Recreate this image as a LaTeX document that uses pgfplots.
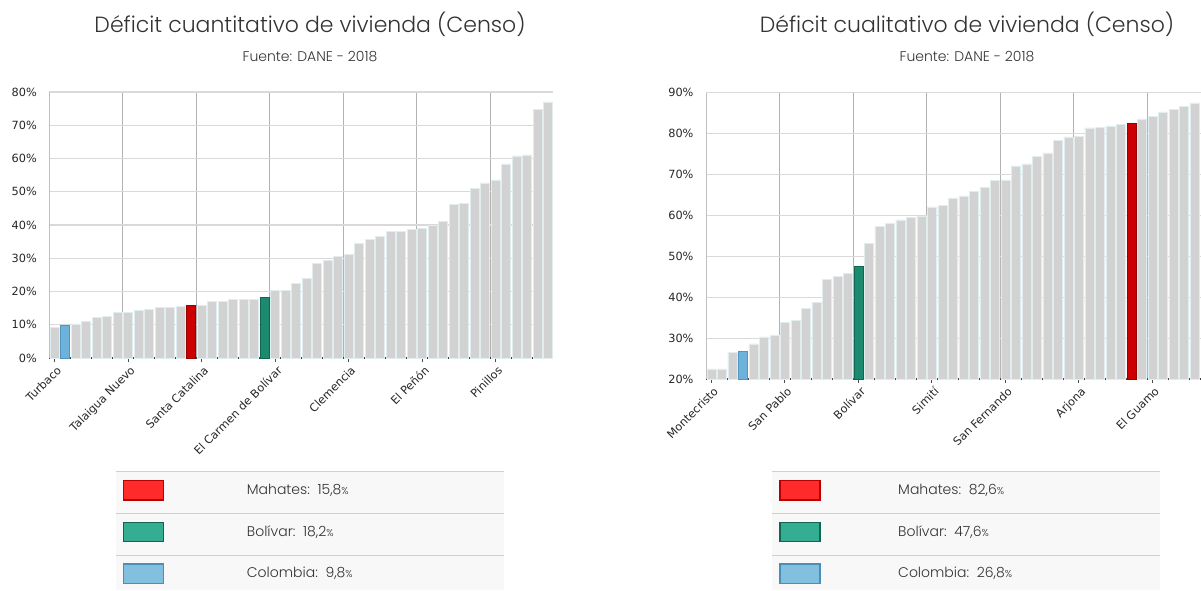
\documentclass[border=0pt]{standalone}
\usepackage{fontspec}
\setmainfont{DejaVu Sans}
\newfontfamily\tickfont{DejaVu Sans}
\newfontfamily\titlefont{Poppins}[UprightFont=* Light]
\usepackage{pgfplots}
\usepackage{pgfplotstable}
\pgfplotsset{compat=1.18}
\definecolor{barg}{HTML}{D2D2D2}
\definecolor{bare}{HTML}{E2EDF0}
\definecolor{redbar}{HTML}{CC0000}
\definecolor{redbd}{HTML}{990000}
\definecolor{grnbar}{HTML}{1B8A6F}
\definecolor{grnbd}{HTML}{12664F}
\definecolor{blubar}{HTML}{6CB2DA}
\definecolor{blubd}{HTML}{4F95C0}
\definecolor{txt}{HTML}{333333}
\definecolor{legbg}{HTML}{F8F8F8}
\definecolor{legln}{HTML}{D0D0D0}
\definecolor{redsw}{HTML}{FF2A2A}
\definecolor{redswb}{HTML}{B80000}
\definecolor{grnsw}{HTML}{35AD92}
\definecolor{grnswb}{HTML}{11664F}
\definecolor{blusw}{HTML}{82C0E0}
\definecolor{bluswb}{HTML}{4C8EB5}

\pgfplotstableread{
x y
1 9.2
2 9.8
3 10.3
4 11.1
5 12.2
6 12.5
7 13.7
8 13.7
9 14.4
10 14.7
11 15.2
12 15.2
13 15.6
14 15.8
15 15.9
16 17.1
17 17.1
18 17.6
19 17.6
20 17.6
21 18.2
22 20.3
23 20.3
24 22.4
25 24.0
26 28.5
27 29.4
28 30.6
29 31.2
30 34.5
31 35.7
32 36.6
33 38.0
34 38.0
35 38.6
36 38.9
37 39.9
38 41.0
39 46.2
40 46.4
41 51.0
42 52.7
43 53.6
44 58.4
45 60.8
46 61.1
47 74.7
48 77.0
}\cuant

\pgfplotstableread{
x y
1 22.5
2 22.5
3 26.6
4 26.8
5 28.6
6 30.3
7 30.7
8 33.9
9 34.4
10 37.3
11 38.8
12 44.4
13 45.1
14 45.9
15 47.6
16 53.2
17 57.4
18 58.1
19 58.9
20 59.5
21 59.8
22 62.1
23 62.4
24 64.3
25 64.8
26 65.8
27 66.8
28 68.5
29 68.7
30 72.1
31 72.6
32 74.5
33 75.3
34 78.4
35 79.2
36 79.4
37 81.4
38 81.6
39 81.9
40 82.2
41 82.6
42 83.6
43 84.2
44 85.3
45 86.0
46 86.6
47 87.5
}\cuali

\pgfplotsset{
  mychart/.style={
    scale only axis,
    ybar, bar width=9pt, bar shift=0pt,
    axis lines*=left,
    axis line style={-},
    x axis line style={draw=black!75, line width=1.2pt},
    y axis line style={draw=black!25, line width=0.8pt},
    tick align=outside,
    major tick length=4pt,
    minor tick length=0pt,
    xtick={1,8,15,22,29,36,43},
    minor xtick={7.5,14.5,21.5,28.5,35.5,42.5},
    xminorgrids=true,
    ymajorgrids=true,
    x grid style={draw=black!30, line width=0.8pt},
    y grid style={draw=black!15, line width=1.2pt},
    xtick style={draw=black!70, line width=0.8pt},
    ytick style={draw=none},
    /pgf/number format/assume math mode=true,
    yticklabel={\pgfmathprintnumber{\tick}\%},
    yticklabel style={font=\tickfont\fontsize{11.3}{13}\selectfont, text=black!85, xshift=-5pt},
    xticklabel style={font=\tickfont\fontsize{11.3}{13}\selectfont, text=black!85, rotate=45, anchor=north east, inner sep=1pt, yshift=-2pt},
  },
  graybar/.style={fill=barg, draw=bare, line width=0.5pt, bar shift=0pt},
}

\begin{document}
\begin{tikzpicture}
\useasboundingbox (0pt,0pt) rectangle (1201pt,590pt);
\clip (0pt,0pt) rectangle (1201pt,590pt);

% ---------- titles ----------
\node[font=\titlefont\fontsize{22}{26}\selectfont, text=txt] at (310pt,566pt) {Déficit cuantitativo de vivienda (Censo)};
\node[font=\titlefont\fontsize{14}{17}\selectfont, text=txt] at (310pt,533pt) {Fuente: DANE - 2018};
\node[font=\titlefont\fontsize{22}{26}\selectfont, text=txt] at (967pt,566pt) {Déficit cualitativo de vivienda (Censo)};
\node[font=\titlefont\fontsize{14}{17}\selectfont, text=txt] at (967pt,533pt) {Fuente: DANE - 2018};

% ---------- left chart ----------
\begin{axis}[mychart,
  at={(49.3pt,232pt)}, anchor=south west,
  width=504pt, height=266pt,
  xmin=0.5, xmax=48.5, ymin=0, ymax=80,
  ytick={0,10,...,80},
  xticklabels={Turbaco, Talaigua Nuevo, Santa Catalina, El Carmen de Bolívar, Clemencia, El Peñón, Pinillos},
]
\addplot[graybar] table {\cuant};
\addplot[fill=blubar, draw=blubd, line width=0.5pt, bar shift=0pt] coordinates {(2,9.8)};
\addplot[fill=redbar, draw=redbd, line width=0.5pt, bar shift=0pt] coordinates {(14,15.8)};
\addplot[fill=grnbar, draw=grnbd, line width=0.5pt, bar shift=0pt] coordinates {(21,18.2)};
\end{axis}

% ---------- right chart ----------
\begin{axis}[mychart,
  at={(706pt,211pt)}, anchor=south west,
  width=495pt, height=286.3pt,
  xmin=0.5, xmax=47.64, ymin=20, ymax=90,
  ytick={20,30,...,90},
  xticklabels={Montecristo, San Pablo, Bolívar, Simití, San Fernando, Arjona, El Guamo},
]
\addplot[graybar] table {\cuali};
\addplot[fill=blubar, draw=blubd, line width=0.5pt, bar shift=0pt] coordinates {(4,26.8)};
\addplot[fill=grnbar, draw=grnbd, line width=0.5pt, bar shift=0pt] coordinates {(15,47.6)};
\addplot[fill=redbar, draw=redbd, line width=0.5pt, bar shift=0pt] coordinates {(41,82.6)};
\end{axis}

% ---------- legends ----------
\foreach \xa/\xb/\sx/\tx/\va/\vb/\vc in {116/504/123.3/246.7/{15,8}/{18,2}/{9,8}, 772/1160/780/898/{82,6}/{47,6}/{26,8}} {
  \fill[legbg] (\xa pt,118.3pt) rectangle (\xb pt,0pt);
  \draw[legln, line width=0.8pt] (\xa pt,118.3pt) -- (\xb pt,118.3pt);
  \draw[legln, line width=0.8pt] (\xa pt,76.7pt) -- (\xb pt,76.7pt);
  \draw[legln, line width=0.8pt] (\xa pt,34.3pt) -- (\xb pt,34.3pt);
  \filldraw[fill=redsw, draw=redswb, line width=1.2pt] (\sx pt,109.3pt) rectangle ++(40pt,-19.3pt);
  \filldraw[fill=grnsw, draw=grnswb, line width=1.2pt] (\sx pt,67.7pt) rectangle ++(40pt,-19.3pt);
  \filldraw[fill=blusw, draw=bluswb, line width=1.2pt] (\sx pt,26pt) rectangle ++(40pt,-19.3pt);
  \node[anchor=west, inner sep=0pt, font=\titlefont\fontsize{14}{17}\selectfont, text=txt] at (\tx pt,99.7pt) {Mahates:\ \ \va{\fontsize{10}{12}\selectfont\%}};
  \node[anchor=west, inner sep=0pt, font=\titlefont\fontsize{14}{17}\selectfont, text=txt] at (\tx pt,58pt) {Bolívar:\ \ \vb{\fontsize{10}{12}\selectfont\%}};
  \node[anchor=west, inner sep=0pt, font=\titlefont\fontsize{14}{17}\selectfont, text=txt] at (\tx pt,16.3pt) {Colombia:\ \ \vc{\fontsize{10}{12}\selectfont\%}};
}
\end{tikzpicture}
\end{document}
